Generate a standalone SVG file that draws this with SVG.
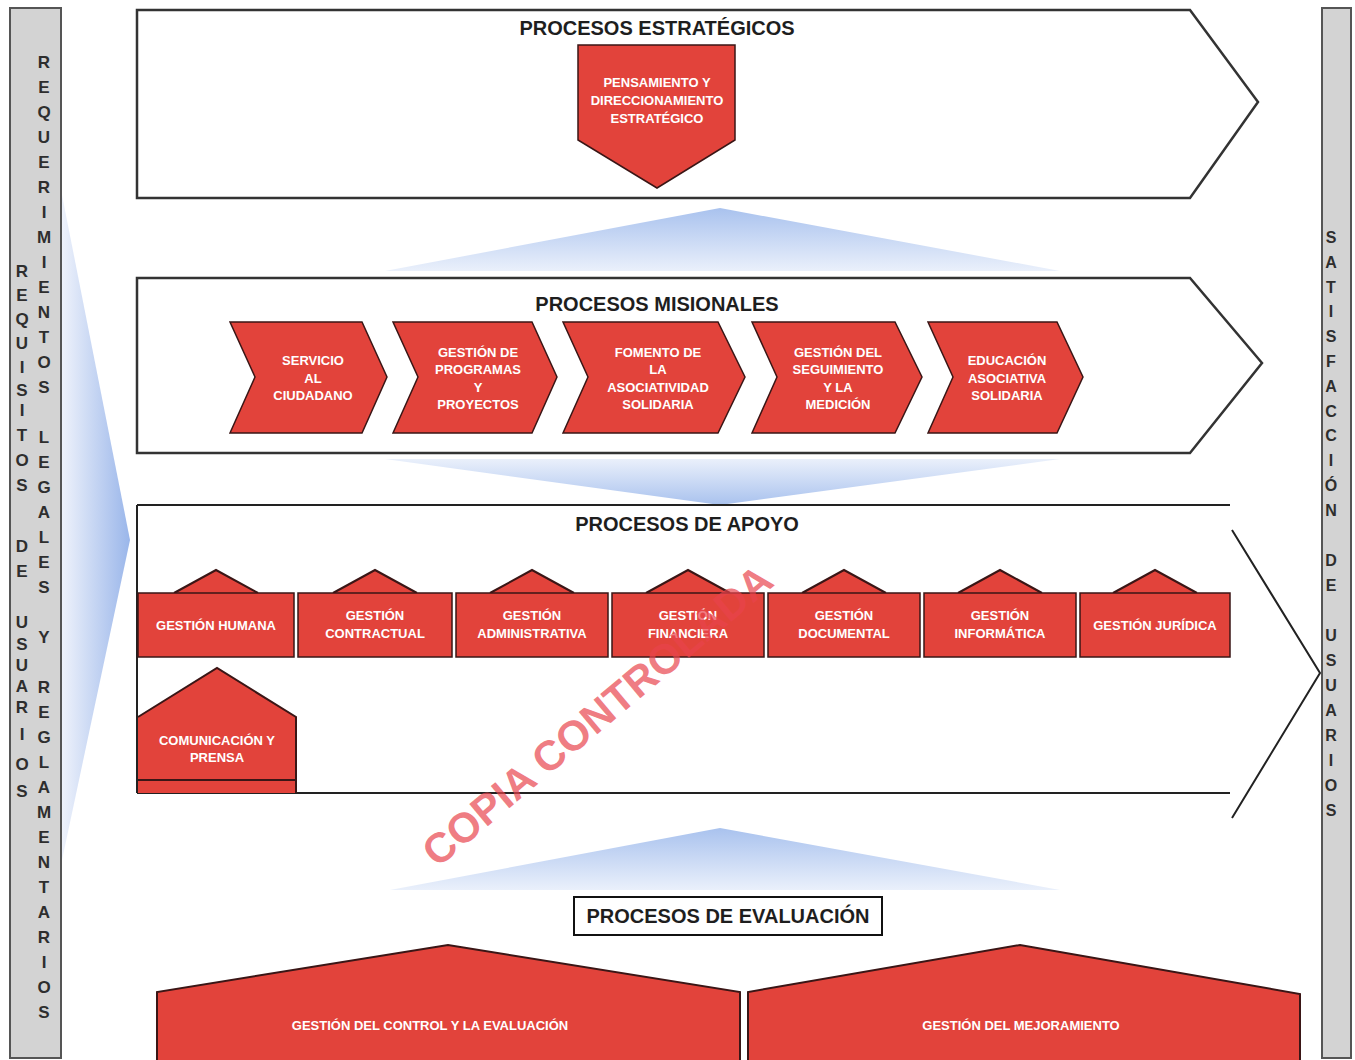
<svg xmlns="http://www.w3.org/2000/svg" width="1355" height="1060" viewBox="0 0 1355 1060">
<defs>
<style>
.side{fill:#d3d3d3;stroke:#555;stroke-width:2}
.vl{font-family:"Liberation Sans",Arial,sans-serif;font-weight:bold;font-size:17px;fill:#2e2e2e;text-anchor:middle}
.frame{fill:#fff;stroke:#333;stroke-width:2.5;stroke-linejoin:miter}
.ln{fill:none;stroke:#222;stroke-width:2}
.title{font-family:"Liberation Sans",Arial,sans-serif;font-weight:bold;font-size:20px;fill:#1e1e1e;text-anchor:middle}
.red{fill:#e2433b;stroke:#3a1616;stroke-width:1.5;stroke-linejoin:miter}
.redf{fill:#e2433b}
.edge{fill:none;stroke:#3a1616;stroke-width:2}
.wt{font-family:"Liberation Sans",Arial,sans-serif;font-weight:bold;font-size:13px;fill:#fff;text-anchor:middle}
.wm{font-family:"Liberation Sans",Arial,sans-serif;font-weight:bold;font-size:42px;fill:#e8434c;fill-opacity:0.7;text-anchor:middle}
</style>
<linearGradient id="gUp" x1="0" y1="0" x2="0" y2="1">
<stop offset="0" stop-color="#a9c2ee"/>
<stop offset="1" stop-color="#eaf0fb"/>
</linearGradient>
<linearGradient id="gDown" x1="0" y1="0" x2="0" y2="1">
<stop offset="0" stop-color="#eaf0fb"/>
<stop offset="1" stop-color="#a9c2ee"/>
</linearGradient>
<linearGradient id="gLeft" x1="0" y1="0" x2="1" y2="0">
<stop offset="0" stop-color="#eef2fb"/>
<stop offset="1" stop-color="#9ab6ea"/>
</linearGradient>
</defs>
<rect width="1355" height="1060" fill="#fff"/>

<g id="connectors">
<polygon points="62,195 130,540 62,860" fill="url(#gLeft)"/>
<polygon points="385,271 720,208 1060,271" fill="url(#gUp)"/>
<polygon points="385,459 1060,459 720,505" fill="url(#gDown)"/>
<polygon points="390,890 720,828 1060,890" fill="url(#gUp)"/>
</g>

<g id="sidebar-left">
<rect class="side" x="10" y="8" width="51" height="1050"/>
<text class="vl"><tspan x="44" y="68">R</tspan><tspan x="44" y="93">E</tspan><tspan x="44" y="118">Q</tspan><tspan x="44" y="143">U</tspan><tspan x="44" y="168">E</tspan><tspan x="44" y="193">R</tspan><tspan x="44" y="218">I</tspan><tspan x="44" y="243">M</tspan><tspan x="44" y="268">I</tspan><tspan x="44" y="293">E</tspan><tspan x="44" y="318">N</tspan><tspan x="44" y="343">T</tspan><tspan x="44" y="368">O</tspan><tspan x="44" y="393">S</tspan><tspan x="44" y="443">L</tspan><tspan x="44" y="468">E</tspan><tspan x="44" y="493">G</tspan><tspan x="44" y="518">A</tspan><tspan x="44" y="543">L</tspan><tspan x="44" y="568">E</tspan><tspan x="44" y="593">S</tspan><tspan x="44" y="643">Y</tspan><tspan x="44" y="693">R</tspan><tspan x="44" y="718">E</tspan><tspan x="44" y="743">G</tspan><tspan x="44" y="768">L</tspan><tspan x="44" y="793">A</tspan><tspan x="44" y="818">M</tspan><tspan x="44" y="843">E</tspan><tspan x="44" y="868">N</tspan><tspan x="44" y="893">T</tspan><tspan x="44" y="918">A</tspan><tspan x="44" y="943">R</tspan><tspan x="44" y="968">I</tspan><tspan x="44" y="993">O</tspan><tspan x="44" y="1018">S</tspan></text>
<text class="vl"><tspan x="22" y="277">R</tspan><tspan x="22" y="301">E</tspan><tspan x="22" y="325">Q</tspan><tspan x="22" y="349">U</tspan><tspan x="22" y="373">I</tspan><tspan x="22" y="396">S</tspan><tspan x="22" y="416">I</tspan><tspan x="22" y="441">T</tspan><tspan x="22" y="466">O</tspan><tspan x="22" y="491">S</tspan><tspan x="22" y="552">D</tspan><tspan x="22" y="577">E</tspan><tspan x="22" y="628">U</tspan><tspan x="22" y="650">S</tspan><tspan x="22" y="671">U</tspan><tspan x="22" y="692">A</tspan><tspan x="22" y="713">R</tspan><tspan x="22" y="740">I</tspan><tspan x="22" y="770">O</tspan><tspan x="22" y="797">S</tspan></text>
</g>

<g id="sidebar-right">
<rect class="side" x="1322" y="8" width="29" height="1050"/>
<text class="vl" style="font-size:16px"><tspan x="1331" y="243">S</tspan><tspan x="1331" y="268">A</tspan><tspan x="1331" y="293">T</tspan><tspan x="1331" y="317">I</tspan><tspan x="1331" y="342">S</tspan><tspan x="1331" y="367">F</tspan><tspan x="1331" y="392">A</tspan><tspan x="1331" y="417">C</tspan><tspan x="1331" y="441">C</tspan><tspan x="1331" y="466">I</tspan><tspan x="1331" y="491">Ó</tspan><tspan x="1331" y="516">N</tspan><tspan x="1331" y="566">D</tspan><tspan x="1331" y="591">E</tspan><tspan x="1331" y="641">U</tspan><tspan x="1331" y="666">S</tspan><tspan x="1331" y="691">U</tspan><tspan x="1331" y="716">A</tspan><tspan x="1331" y="741">R</tspan><tspan x="1331" y="766">I</tspan><tspan x="1331" y="791">O</tspan><tspan x="1331" y="816">S</tspan></text>
</g>

<g id="procesos-estrategicos">
<polygon class="frame" points="137,10 1190,10 1258,102 1190,198 137,198"/>
<text class="title" x="657" y="35">PROCESOS ESTRATÉGICOS</text>
</g>

<g id="pensamiento">
<polygon class="red" points="578,45 735,45 735,140 657,188 578,140"/>
<text class="wt"><tspan x="657" y="87">PENSAMIENTO Y</tspan><tspan x="657" y="105">DIRECCIONAMIENTO</tspan><tspan x="657" y="123">ESTRATÉGICO</tspan></text>
</g>

<g id="procesos-misionales">
<polygon class="frame" points="137,278 1190,278 1262,363 1190,453 137,453"/>
<text class="title" x="657" y="311">PROCESOS MISIONALES</text>
</g>

<g id="servicio-ciudadano">
<path class="red" d="M230,322 L362,322 L387,377 L362,433 L230,433 L255,377 Z"/>
<text class="wt"><tspan x="313" y="365">SERVICIO</tspan><tspan x="313" y="383">AL</tspan><tspan x="313" y="400">CIUDADANO</tspan></text>
</g>
<g id="gestion-programas">
<path class="red" d="M393,322 L532,322 L557,377 L532,433 L393,433 L418,377 Z"/>
<text class="wt"><tspan x="478" y="357">GESTIÓN DE</tspan><tspan x="478" y="374">PROGRAMAS</tspan><tspan x="478" y="392">Y</tspan><tspan x="478" y="409">PROYECTOS</tspan></text>
</g>
<g id="fomento-asociatividad">
<path class="red" d="M563,322 L718,322 L745,377 L718,433 L563,433 L588,377 Z"/>
<text class="wt"><tspan x="658" y="357">FOMENTO DE</tspan><tspan x="658" y="374">LA</tspan><tspan x="658" y="392">ASOCIATIVIDAD</tspan><tspan x="658" y="409">SOLIDARIA</tspan></text>
</g>
<g id="gestion-seguimiento">
<path class="red" d="M752,322 L895,322 L922,377 L895,433 L752,433 L777,377 Z"/>
<text class="wt"><tspan x="838" y="357">GESTIÓN DEL</tspan><tspan x="838" y="374">SEGUIMIENTO</tspan><tspan x="838" y="392">Y LA</tspan><tspan x="838" y="409">MEDICIÓN</tspan></text>
</g>
<g id="educacion-asociativa">
<path class="red" d="M928,322 L1057,322 L1083,377 L1057,433 L928,433 L953,377 Z"/>
<text class="wt"><tspan x="1007" y="365">EDUCACIÓN</tspan><tspan x="1007" y="383">ASOCIATIVA</tspan><tspan x="1007" y="400">SOLIDARIA</tspan></text>
</g>

<g id="procesos-apoyo">
<path class="ln" d="M137,505 L1230,505 M137,505 L137,793 M137,793 L1230,793 M1232,530 L1320,673 L1232,818"/>
<text class="title" x="687" y="531">PROCESOS DE APOYO</text>
</g>

<g id="gestion-humana">
<polygon class="redf" points="174,593 216,570 258,593"/>
<path class="edge" d="M174,593 L216,570 L258,593"/>
<rect class="red" x="138" y="593" width="156" height="64"/>
<text class="wt" x="216" y="630">GESTIÓN HUMANA</text>
</g>
<g id="gestion-contractual">
<polygon class="redf" points="333,593 375,570 417,593"/>
<path class="edge" d="M333,593 L375,570 L417,593"/>
<rect class="red" x="298" y="593" width="154" height="64"/>
<text class="wt"><tspan x="375" y="620">GESTIÓN</tspan><tspan x="375" y="638">CONTRACTUAL</tspan></text>
</g>
<g id="gestion-administrativa">
<polygon class="redf" points="490,593 532,570 574,593"/>
<path class="edge" d="M490,593 L532,570 L574,593"/>
<rect class="red" x="456" y="593" width="152" height="64"/>
<text class="wt"><tspan x="532" y="620">GESTIÓN</tspan><tspan x="532" y="638">ADMINISTRATIVA</tspan></text>
</g>
<g id="gestion-financiera">
<polygon class="redf" points="646,593 688,570 730,593"/>
<path class="edge" d="M646,593 L688,570 L730,593"/>
<rect class="red" x="612" y="593" width="152" height="64"/>
<text class="wt"><tspan x="688" y="620">GESTIÓN</tspan><tspan x="688" y="638">FINANCIERA</tspan></text>
</g>
<g id="gestion-documental">
<polygon class="redf" points="802,593 844,570 886,593"/>
<path class="edge" d="M802,593 L844,570 L886,593"/>
<rect class="red" x="768" y="593" width="152" height="64"/>
<text class="wt"><tspan x="844" y="620">GESTIÓN</tspan><tspan x="844" y="638">DOCUMENTAL</tspan></text>
</g>
<g id="gestion-informatica">
<polygon class="redf" points="958,593 1000,570 1042,593"/>
<path class="edge" d="M958,593 L1000,570 L1042,593"/>
<rect class="red" x="924" y="593" width="152" height="64"/>
<text class="wt"><tspan x="1000" y="620">GESTIÓN</tspan><tspan x="1000" y="638">INFORMÁTICA</tspan></text>
</g>
<g id="gestion-juridica">
<polygon class="redf" points="1113,593 1155,570 1197,593"/>
<path class="edge" d="M1113,593 L1155,570 L1197,593"/>
<rect class="red" x="1080" y="593" width="150" height="64"/>
<text class="wt" x="1155" y="630">GESTIÓN JURÍDICA</text>
</g>

<g id="comunicacion-prensa">
<polygon class="redf" points="138,717 217,668 296,717 296,793 138,793"/>
<path class="edge" d="M138,717 L217,668 L296,717 L296,793 M138,780 L296,780"/>
<text class="wt"><tspan x="217" y="745">COMUNICACIÓN Y</tspan><tspan x="217" y="762">PRENSA</tspan></text>
</g>

<g id="procesos-evaluacion">
<rect x="574" y="897" width="308" height="38" fill="#fff" stroke="#111" stroke-width="2"/>
<text class="title" x="728" y="923">PROCESOS DE EVALUACIÓN</text>
</g>

<g id="gestion-control">
<polygon class="redf" points="157,992 448,945 740,992 740,1060 157,1060"/>
<path class="edge" d="M157,1060 L157,992 L448,945 L740,992 L740,1060"/>
<text class="wt" x="430" y="1030">GESTIÓN DEL CONTROL Y LA EVALUACIÓN</text>
</g>
<g id="gestion-mejoramiento">
<polygon class="redf" points="748,992 1020,945 1300,994 1300,1060 748,1060"/>
<path class="edge" d="M748,1060 L748,992 L1020,945 L1300,994 L1300,1060"/>
<text class="wt" x="1021" y="1030">GESTIÓN DEL MEJORAMIENTO</text>
</g>

<text class="wm" x="597" y="730" transform="rotate(-40 597 715)">COPIA CONTROLADA</text>
</svg>
